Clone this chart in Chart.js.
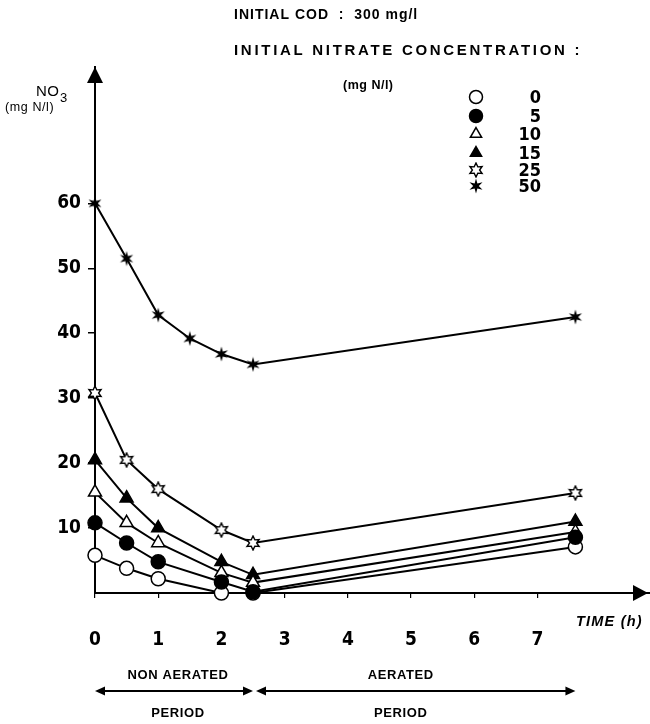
<!DOCTYPE html>
<html>
<head>
<meta charset="utf-8">
<script src="https://cdn.jsdelivr.net/npm/chart.js@4"></script>
<style>
  html, body { margin: 0; padding: 0; background: #fff; }
  #wrap { width: 650px; height: 724px; }
</style>
</head>
<body>
<div id="wrap"><canvas id="myChart" width="650" height="724"></canvas></div>
<script>
// time (h) of the samples
const times = [0, 0.5, 1, 2, 2.5, 7.6]
const times50 = [0, 0.5, 1, 1.5, 2, 2.5, 7.6]

// NO3 (mg N/l), one array per initial nitrate concentration
const no3_0 = [5.8, 3.8, 2.2, 0, 0, 7.1]
const no3_5 = [10.8, 7.7, 4.8, 1.7, 0.2, 8.6]
const no3_10 = [15.5, 10.8, 7.7, 3.1, 1.6, 9.4]
const no3_15 = [20.5, 14.6, 10.0, 4.8, 2.8, 11.0]
const no3_25 = [30.8, 20.5, 16.0, 9.7, 7.7, 15.4]
const no3_50 = [60, 51.5, 42.8, 39.2, 36.8, 35.2, 42.5]

const legendLabels = ['0', '5', '10', '15', '25', '50']
const xTicks = [0, 1, 2, 3, 4, 5, 6, 7]
const yTicks = [10, 20, 30, 40, 50, 60]
const periods = [
    { top: 'NON AERATED', bottom: 'PERIOD', from: 0, to: 2.5 },
    { top: 'AERATED', bottom: 'PERIOD', from: 2.5, to: 7.6 }
]

const FONT = "'DejaVu Sans Condensed', 'Liberation Sans Narrow', sans-serif"
const TXT = "'Liberation Sans', Arial, sans-serif"

// small star markers, drawn once on offscreen canvases
function makeStar(size, outer, inner, filled) {
    const c = document.createElement('canvas')
    c.width = size; c.height = size
    const g = c.getContext('2d')
    const cx = size / 2, cy = size / 2
    g.beginPath()
    for (let i = 0; i < 12; i++) {
        const r = i % 2 === 0 ? outer : inner
        const a = -Math.PI / 2 + i * Math.PI / 6
        const px = cx + r * Math.cos(a), py = cy + r * Math.sin(a)
        i === 0 ? g.moveTo(px, py) : g.lineTo(px, py)
    }
    g.closePath()
    if (filled) {
        g.fillStyle = '#000'
        g.fill()
    } else {
        g.fillStyle = '#fff'
        g.fill()
        g.lineWidth = 1.4
        g.strokeStyle = '#000'
        g.stroke()
    }
    return c
}
const starOpen = makeStar(16, 7, 3.6, false)
const starFilled = makeStar(16, 7.5, 2.8, true)

function series(label, xs, ys, style, fill, radius, order) {
    return {
        label: label,
        data: xs.map((t, i) => ({ x: t, y: ys[i] })),
        borderColor: '#000',
        borderWidth: 2,
        pointStyle: style,
        pointRadius: radius,
        pointBorderWidth: 1.5,
        pointBorderColor: '#000',
        pointBackgroundColor: fill,
        tension: 0,
        clip: false,
        order: order
    }
}

// open circles go underneath the rest
const datasets = [
    series(legendLabels[0], times, no3_0, 'circle', '#fff', 7, 1),
    series(legendLabels[1], times, no3_5, 'circle', '#000', 7, 0),
    series(legendLabels[2], times, no3_10, 'triangle', '#fff', 7.5, 0),
    series(legendLabels[3], times, no3_15, 'triangle', '#000', 7.5, 0),
    series(legendLabels[4], times, no3_25, starOpen, '#fff', 7, 0),
    series(legendLabels[5], times50, no3_50, starFilled, '#000', 7, 0)
]

function arrowHead(ctx, x, y, dir, len, half) {
    // dir: unit vector the arrow points to
    const [dx, dy] = dir
    ctx.beginPath()
    ctx.moveTo(x, y)
    ctx.lineTo(x - dx * len - dy * half, y - dy * len + dx * half)
    ctx.lineTo(x - dx * len + dy * half, y - dy * len - dx * half)
    ctx.closePath()
    ctx.fill()
}

const decor = {
    id: 'decor',
    afterDraw(chart) {
        const { ctx, chartArea: a } = chart
        const xs = chart.scales.x
        ctx.save()
        ctx.fillStyle = '#000'
        ctx.strokeStyle = '#000'

        // axis arrows
        arrowHead(ctx, a.left, a.top, [0, -1], 16, 8)
        arrowHead(ctx, a.right - 2, a.bottom, [1, 0], 15, 8)

        // header
        ctx.textBaseline = 'middle'
        ctx.textAlign = 'left'
        ctx.font = 'bold 14px ' + TXT
        ctx.letterSpacing = '1px'
        ctx.fillText('INITIAL COD  :  300 mg/l', 234, 15)
        ctx.font = 'bold 15px ' + TXT
        ctx.letterSpacing = '2.7px'
        ctx.fillText('INITIAL NITRATE CONCENTRATION :', 234, 51)
        ctx.font = 'bold 12.5px ' + TXT
        ctx.letterSpacing = '0.5px'
        ctx.fillText('(mg N/l)', 343, 86)

        // y axis title
        ctx.font = '15px ' + TXT
        ctx.letterSpacing = '0.5px'
        ctx.fillText('NO', 36, 92)
        ctx.font = '13px ' + TXT
        ctx.fillText('3', 60, 98)
        ctx.font = '12.5px ' + TXT
        ctx.letterSpacing = '0.6px'
        ctx.fillText('(mg N/l)', 5, 108)
        ctx.letterSpacing = '0px'

        // legend
        const rowY = [97, 116, 134, 153, 170, 186]
        chart.data.datasets.forEach((ds, i) => {
            ctx.fillStyle = ds.pointBackgroundColor
            ctx.strokeStyle = '#000'
            ctx.lineWidth = 1.5
            Chart.helpers.drawPoint(ctx, {
                pointStyle: ds.pointStyle,
                radius: 6.5,
                borderWidth: 1.5,
                rotation: 0
            }, 476, rowY[i])
            ctx.fillStyle = '#000'
            ctx.textAlign = 'right'
            ctx.font = 'bold 18px ' + FONT
            ctx.fillText(ds.label, 541, rowY[i] + 1)
        })

        // x axis title
        ctx.textAlign = 'left'
        ctx.font = 'italic bold 14.5px ' + TXT
        ctx.letterSpacing = '1.2px'
        ctx.fillText('TIME (h)', 576, 622)
        ctx.letterSpacing = '0px'

        // periods
        const ay = 691
        ctx.lineWidth = 2
        periods.forEach(p => {
            const first = p.from === 0
            const x0 = xs.getPixelForValue(p.from) + (first ? 0 : 3)
            const x1 = xs.getPixelForValue(p.to)
            const mid = (x0 + x1) / 2 - (first ? -4 : 15)
            ctx.beginPath()
            ctx.moveTo(x0 + 4, ay)
            ctx.lineTo(x1 - 4, ay)
            ctx.stroke()
            arrowHead(ctx, x0, ay, [-1, 0], 10, 4.5)
            arrowHead(ctx, x1, ay, [1, 0], 10, 4.5)
            ctx.textAlign = 'center'
            ctx.font = 'bold 13px ' + TXT
            ctx.letterSpacing = '0.6px'
            ctx.fillText(p.top, mid, 675)
            ctx.fillText(p.bottom, mid, 713)
        })
        ctx.restore()
    }
}

const config = {
    type: 'line',
    data: { datasets: datasets },
    options: {
        responsive: false,
        animation: false,
        events: [],
        layout: { autoPadding: false, padding: { top: 67, right: 0, left: 0, bottom: 0 } },
        plugins: {
            legend: { display: false },
            tooltip: { enabled: false },
            title: { display: false }
        },
        scales: {
            x: {
                type: 'linear',
                min: 0,
                max: 8.78,
                afterBuildTicks: s => { s.ticks = xTicks.map(v => ({ value: v })) },
                afterFit: s => {
                    s.height = 131
                    s.paddingLeft = 0
                    s.paddingRight = 0
                },
                border: { color: '#000', width: 2 },
                grid: { drawOnChartArea: false, tickLength: 5, color: '#000', lineWidth: 1.2 },
                ticks: {
                    color: '#000',
                    padding: 31,
                    maxRotation: 0,
                    font: { family: FONT, size: 19, weight: 'bold' }
                }
            },
            y: {
                min: 0,
                max: 81,
                afterBuildTicks: s => { s.ticks = yTicks.map(v => ({ value: v })) },
                afterFit: s => { s.width = 95 },
                border: { color: '#000', width: 2 },
                grid: { drawOnChartArea: false, tickLength: 7, color: '#000', lineWidth: 1.5 },
                ticks: {
                    color: '#000',
                    padding: 7,
                    font: { family: FONT, size: 19, weight: 'bold' }
                }
            }
        }
    },
    plugins: [decor]
}

window.onload = () => {
    const ctx = document.getElementById('myChart')
    new Chart(ctx, config)
}
</script>
</body>
</html>
